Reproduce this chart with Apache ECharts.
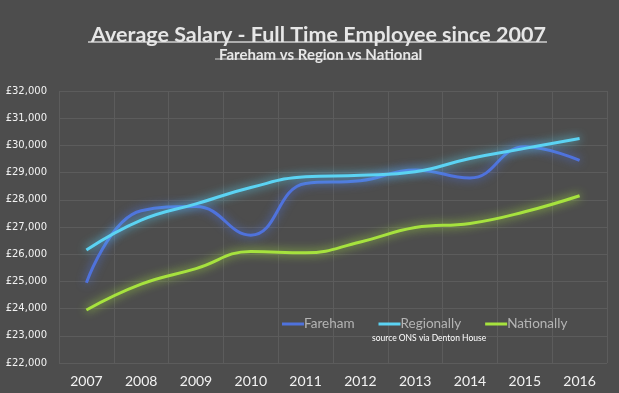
<!DOCTYPE html>
<html>
<head>
<meta charset="utf-8">
<script src="https://cdn.jsdelivr.net/npm/echarts@6/dist/echarts.min.js"></script>
<style>
html,body{margin:0;padding:0;background:#4d4d4d;}
#chart{width:619px;height:393px;}
</style>
</head>
<body>
<div id="chart"></div>
<script>
const years = ['2007','2008','2009','2010','2011','2012','2013','2014','2015','2016'];
const fareham = [24950, 27600, 27750, 26700, 28600, 28700, 29100, 28800, 29950, 29450];
const regionally = [26150, 27250, 27850, 28450, 28850, 28900, 29030, 29520, 29890, 30250];
const nationally = [23950, 24900, 25470, 26100, 26050, 26450, 26980, 27130, 27560, 28150];
const seriesNames = ['Fareham', 'Regionally', 'Nationally'];
const colors = ['#4f72dc', '#5bd3f3', '#a6e23e'];

const chart = echarts.init(document.getElementById('chart'));
const font = 'Lato, "DejaVu Sans", sans-serif';
function mkSeries(name, data, color) {
  return {
    name: name, type: 'line', data: data, smooth: 0.45, symbol: 'none',
    lineStyle: {width: 3, color: color, shadowBlur: 10, shadowColor: color},
    itemStyle: {color: color}
  };
}
chart.setOption({
  backgroundColor: '#4d4d4d',
  animation: false,
  title: [
    {text: 'Average Salary - Full Time Employee since 2007', left: 86, top: 19,
     textStyle: {color: '#e6e6e6', fontSize: 21.5, fontWeight: 'bold', fontFamily: font}},
    {text: 'Fareham vs Region vs National', left: 214, top: 43,
     textStyle: {color: '#e6e6e6', fontSize: 15, fontWeight: 'bold', fontFamily: font}},
    {text: 'source ONS via Denton House', left: 367, top: 329,
     textStyle: {color: '#ffffff', fontSize: 8.5, fontWeight: 'normal', fontFamily: font}}
  ],
  graphic: [
    {type: 'line', shape: {x1: 88, y1: 42, x2: 547, y2: 42}, style: {stroke: '#cfcfcf', lineWidth: 1.5}},
    {type: 'line', shape: {x1: 215, y1: 59, x2: 421, y2: 59}, style: {stroke: '#cfcfcf', lineWidth: 1}}
  ],
  legend: {
    data: seriesNames, left: 277, top: 312, itemWidth: 22, itemHeight: 3, itemGap: 24,
    icon: 'rect',
    textStyle: {color: '#b4b4b4', fontSize: 13.5, fontFamily: font, padding: [0,0,0,-5]}
  },
  grid: {left: 59, right: 12, top: 91, bottom: 30, containLabel: false},
  xAxis: {
    type: 'category', data: years, boundaryGap: true,
    axisLine: {show: false}, axisTick: {show: false},
    axisLabel: {color: '#f2f2f2', fontSize: 14, fontFamily: font, margin: 11},
    splitLine: {show: true, lineStyle: {color: '#5c5c5c', width: 1}}
  },
  yAxis: {
    type: 'value', min: 22000, max: 32000, interval: 1000,
    axisLine: {show: false}, axisTick: {show: false},
    axisLabel: {color: '#f2f2f2', fontSize: 10, fontFamily: '"DejaVu Sans", sans-serif', margin: 12,
      formatter: v => '£' + v.toLocaleString('en-GB')},
    splitLine: {lineStyle: {color: '#5c5c5c', width: 1}}
  },
  series: [
    mkSeries(seriesNames[0], fareham, colors[0]),
    mkSeries(seriesNames[1], regionally, colors[1]),
    mkSeries(seriesNames[2], nationally, colors[2])
  ]
});
</script>
</body>
</html>
